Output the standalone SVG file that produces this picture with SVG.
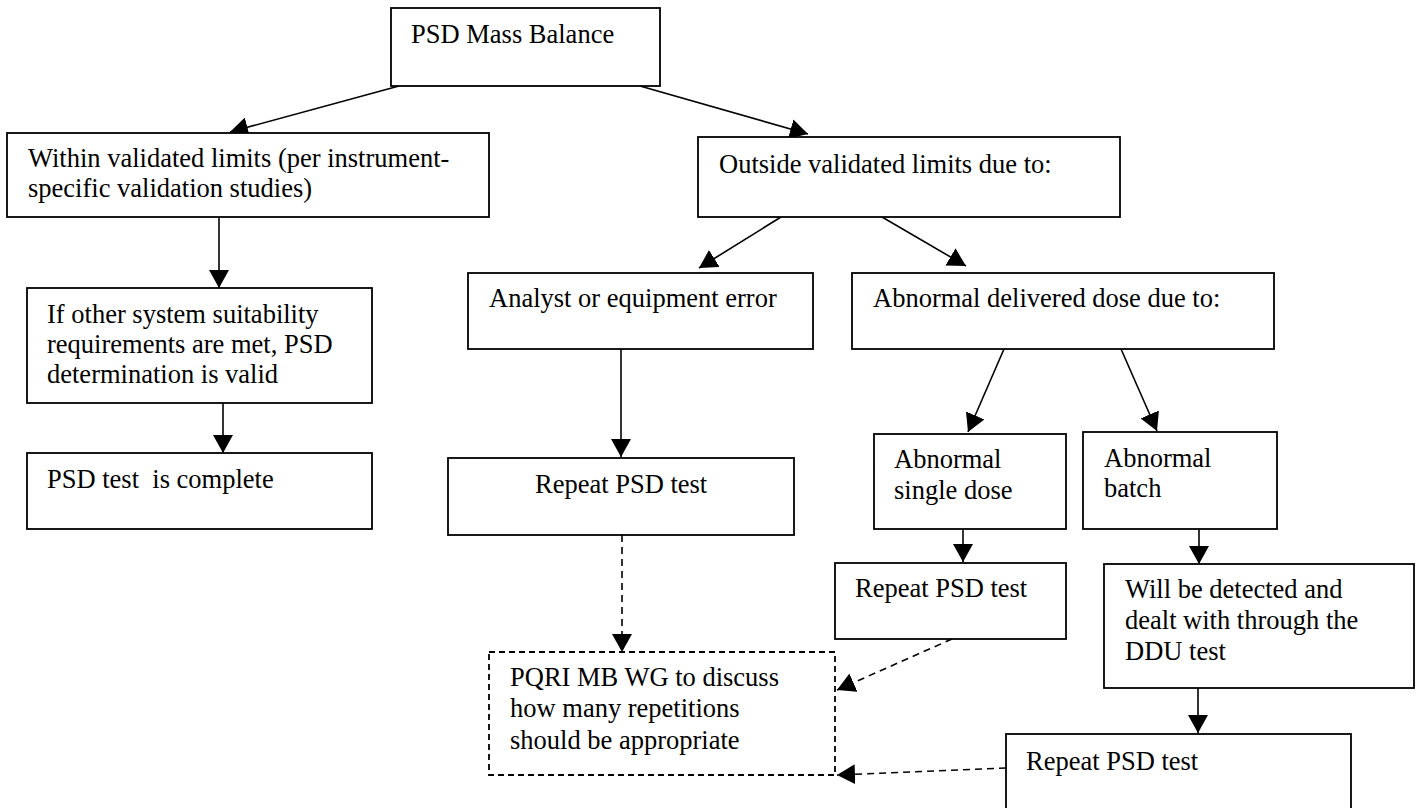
<svg xmlns="http://www.w3.org/2000/svg" width="1417" height="808" viewBox="0 0 1417 808">
<style>
.box{fill:#fff;stroke:#000;stroke-width:1.8}
.dbox{fill:#fff;stroke:#000;stroke-width:1.8;stroke-dasharray:6,4}
.t{font-family:"Liberation Serif","Times New Roman",serif;font-size:26.5px;fill:#000}
.c{fill:none;stroke:#000;stroke-width:1.6}
.d{fill:none;stroke:#000;stroke-width:1.6;stroke-dasharray:7,5}
</style>
<defs>
<marker id="ah" viewBox="0 0 18 20" markerWidth="18" markerHeight="20" refX="18" refY="10" orient="auto" markerUnits="userSpaceOnUse">
<path d="M0,0 L18,10 L0,20 z" fill="#000"/>
</marker>
</defs>
<rect width="1417" height="808" fill="#fff"/>
<g id="connectors">
<line class="c" x1="399" y1="86" x2="230" y2="132" marker-end="url(#ah)"/>
<line class="c" x1="640" y1="86" x2="808" y2="134" marker-end="url(#ah)"/>
<line class="c" x1="219" y1="217" x2="219" y2="288" marker-end="url(#ah)"/>
<line class="c" x1="223" y1="403" x2="223" y2="453" marker-end="url(#ah)"/>
<line class="c" x1="781" y1="217" x2="699" y2="268" marker-end="url(#ah)"/>
<line class="c" x1="882" y1="217" x2="966" y2="266" marker-end="url(#ah)"/>
<line class="c" x1="621" y1="349" x2="621" y2="457" marker-end="url(#ah)"/>
<line class="c" x1="1004" y1="349" x2="968" y2="432" marker-end="url(#ah)"/>
<line class="c" x1="1121" y1="349" x2="1157" y2="431" marker-end="url(#ah)"/>
<line class="c" x1="963" y1="529" x2="963" y2="562" marker-end="url(#ah)"/>
<line class="c" x1="1199" y1="529" x2="1199" y2="564" marker-end="url(#ah)"/>
<line class="c" x1="1198" y1="688" x2="1198" y2="733" marker-end="url(#ah)"/>
<line class="d" x1="622" y1="535" x2="622" y2="652" marker-end="url(#ah)"/>
<line class="d" x1="952" y1="639" x2="837" y2="690" marker-end="url(#ah)"/>
<line class="d" x1="1006" y1="768" x2="837" y2="775" marker-end="url(#ah)"/>
</g>
<g id="n-top"><rect class="box" x="391" y="8" width="269" height="78"/><text class="t" x="411" y="43">PSD Mass Balance</text></g>
<g id="n-within"><rect class="box" x="7" y="133" width="482" height="84"/><text class="t" x="28" y="167">Within validated limits (per instrument-</text><text class="t" x="28" y="197">specific validation studies)</text></g>
<g id="n-outside"><rect class="box" x="698" y="137" width="422" height="80"/><text class="t" x="719" y="173">Outside validated limits due to:</text></g>
<g id="n-if"><rect class="box" x="27" y="288" width="345" height="115"/><text class="t" x="47" y="323">If other system suitability</text><text class="t" x="47" y="353">requirements are met, PSD</text><text class="t" x="47" y="383">determination is valid</text></g>
<g id="n-complete"><rect class="box" x="27" y="453" width="345" height="76"/><text class="t" x="47" y="488" xml:space="preserve">PSD test  is complete</text></g>
<g id="n-analyst"><rect class="box" x="468" y="273" width="345" height="76"/><text class="t" x="489" y="307">Analyst or equipment error</text></g>
<g id="n-abnormal"><rect class="box" x="852" y="273" width="422" height="76"/><text class="t" x="873" y="307">Abnormal delivered dose due to:</text></g>
<g id="n-repeat1"><rect class="box" x="448" y="458" width="346" height="77"/><text class="t" x="535" y="493">Repeat PSD test</text></g>
<g id="n-single"><rect class="box" x="874" y="434" width="192" height="95"/><text class="t" x="894" y="468">Abnormal</text><text class="t" x="894" y="499">single dose</text></g>
<g id="n-batch"><rect class="box" x="1083" y="432" width="194" height="97"/><text class="t" x="1104" y="467">Abnormal</text><text class="t" x="1104" y="497">batch</text></g>
<g id="n-repeat2"><rect class="box" x="835" y="563" width="231" height="76"/><text class="t" x="855" y="597">Repeat PSD test</text></g>
<g id="n-will"><rect class="box" x="1104" y="564" width="310" height="124"/><text class="t" x="1125" y="598">Will be detected and</text><text class="t" x="1125" y="629">dealt with through the</text><text class="t" x="1125" y="660">DDU test</text></g>
<g id="n-pqri"><rect class="dbox" x="489" y="652" width="346" height="123"/><text class="t" x="510" y="686">PQRI MB WG to discuss</text><text class="t" x="510" y="717">how many repetitions</text><text class="t" x="510" y="749">should be appropriate</text></g>
<g id="n-repeat3"><rect class="box" x="1006" y="734" width="345" height="80"/><text class="t" x="1026" y="770">Repeat PSD test</text></g>
</svg>
